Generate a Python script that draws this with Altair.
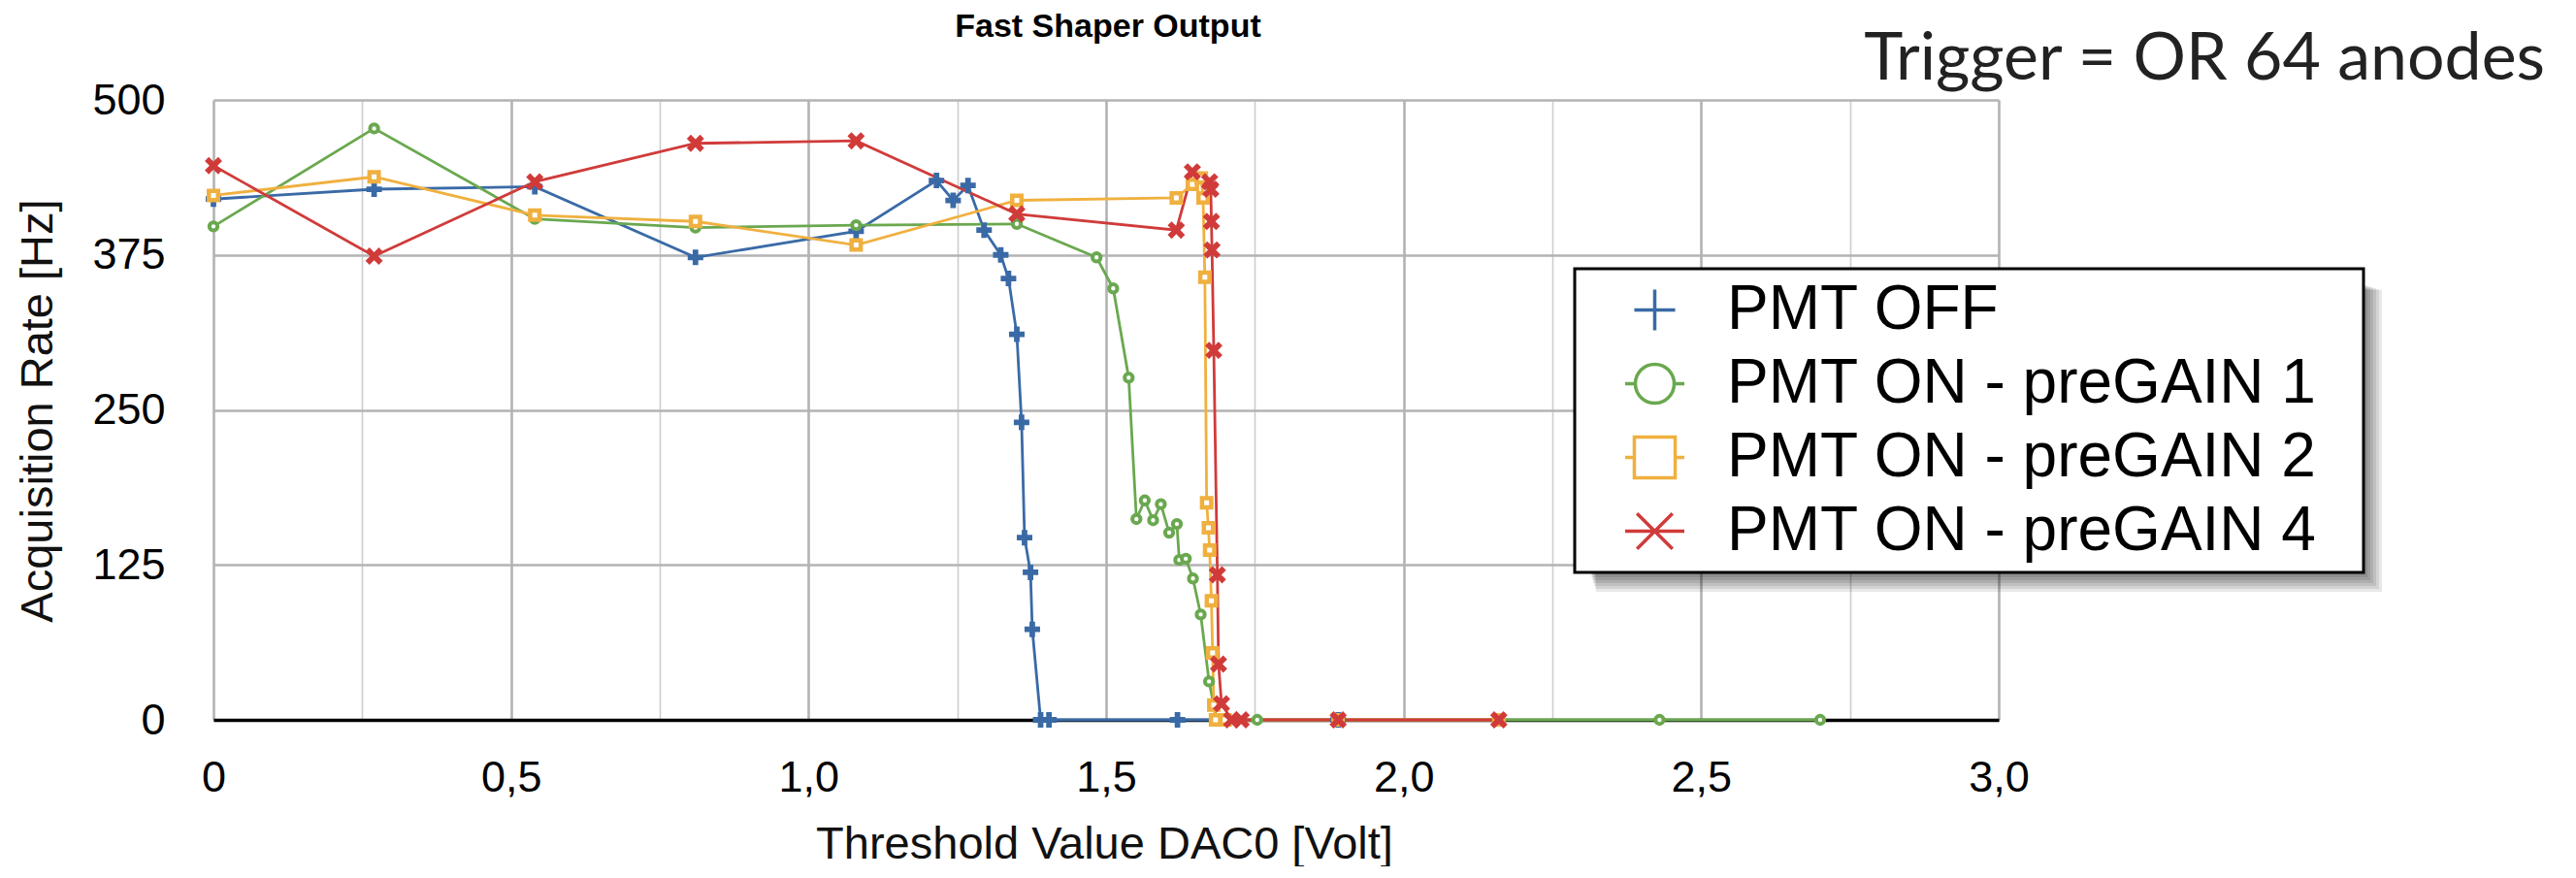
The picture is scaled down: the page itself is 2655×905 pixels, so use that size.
import altair as alt
import pandas as pd

# ---------------- data ----------------
SERIES = ["PMT OFF", "PMT ON - preGAIN 1", "PMT ON - preGAIN 2", "PMT ON - preGAIN 4"]
COLORS = ["#3a6aa6", "#6aa84f", "#f0b03f", "#d03b3a"]

off_x = [0, 0.27, 0.54, 0.81, 1.08, 1.215, 1.243, 1.268, 1.295, 1.323, 1.336, 1.35,
         1.358, 1.363, 1.373, 1.376, 1.39, 1.404, 1.62, 1.89]
off_y = [420, 428, 430, 373, 394, 435, 419, 431, 395, 375, 356, 311,
         240, 147, 119, 73, 0, 0, 0, 0]

g1_x = [0, 0.27, 0.54, 0.81, 1.08, 1.35, 1.484, 1.512, 1.538, 1.551, 1.565, 1.579,
        1.592, 1.606, 1.619, 1.623, 1.634, 1.646, 1.659, 1.673, 1.686, 1.754, 1.89,
        2.16, 2.43, 2.70]
g1_y = [398, 477, 404, 397, 399, 400, 373, 348, 276, 162, 177, 161,
        174, 151, 158, 129, 130, 114, 85, 31, 0, 0, 0,
        0, 0, 0]

g2_x = [0, 0.27, 0.54, 0.81, 1.08, 1.35, 1.618, 1.645, 1.660, 1.663, 1.666, 1.669,
        1.672, 1.674, 1.677, 1.679, 1.681, 1.684, 1.70, 1.89, 2.16]
g2_y = [423, 438, 407, 402, 383, 419, 421, 432, 437, 421, 357, 175,
        155, 137, 96, 54, 12, 0, 0, 0, 0]

g4_x = [0, 0.27, 0.54, 0.81, 1.08, 1.35, 1.618, 1.645, 1.674, 1.676, 1.677, 1.678,
        1.681, 1.687, 1.689, 1.694, 1.711, 1.727, 1.89, 2.16]
g4_y = [447, 374, 434, 465, 467, 408, 395, 442, 434, 428, 402, 379,
        298, 117, 45, 13, 0, 0, 0, 0]

X_TICKS = [0, 0.25, 0.5, 0.75, 1.0, 1.25, 1.5, 1.75, 2.0, 2.25, 2.5, 2.75, 3.0]
Y_TICKS = [0, 125, 250, 375, 500]

TITLE = "Fast Shaper Output"
NOTE = "Trigger = OR 64 anodes"

rows = []
for s, xs, ys in zip(SERIES, [off_x, g1_x, g2_x, g4_x], [off_y, g1_y, g2_y, g4_y]):
    for i, (xv, yv) in enumerate(zip(xs, ys)):
        rows.append({"series": s, "x": xv, "y": yv, "idx": i})
df = pd.DataFrame(rows)

# ---------------- styling ----------------
FONT = "Liberation Sans"
W, H = 1840, 639

PLUS = "M-0.36,-1H0.36V-0.36H1V0.36H0.36V1H-0.36V0.36H-1V-0.36H-0.36Z"
XMARK = ("M0.495,-0.919L0.919,-0.495L0.424,0L0.919,0.495L0.495,0.919L0,0.424"
         "L-0.495,0.919L-0.919,0.495L-0.424,0L-0.919,-0.495L-0.495,-0.919L0,-0.424Z")
LEG_SHAPES = [
    "M-0.69,0H0.69M0,-0.69V0.69",
    "M-1,0H-0.656M0.656,0H1M0.656,0A0.656,0.656,0,1,1,-0.656,0A0.656,0.656,0,1,1,0.656,0",
    "M-1,0H-0.69M0.69,0H1M-0.69,-0.69H0.69V0.69H-0.69Z",
    "M-1,0H1M-0.6,-0.6L0.6,0.6M-0.6,0.6L0.6,-0.6",
]

x_axis = alt.Axis(
    values=X_TICKS,
    labelExpr="datum.value % 0.5 != 0 ? '' : (datum.value == 0 ? '0' : replace(format(datum.value, '.1f'), '.', ','))",
    labelFont=FONT, labelFontSize=45, labelColor="black", labelPadding=37,
    labelFlush=False, labelOverlap=False,
    ticks=False, tickSize=0,
    domainColor="black", domainWidth=3.5,
    gridColor={"condition": {"test": "datum.value % 0.5 == 0", "value": "#b3b3b3"}, "value": "#cdcdcd"},
    gridWidth={"condition": {"test": "datum.value % 0.5 == 0", "value": 2.6}, "value": 1.6},
    title="Threshold Value DAC0 [Volt]",
    titleFont=FONT, titleFontSize=47, titleFontWeight="normal", titleColor="#111111",
    titleX=918, titleY=142, titleBaseline="alphabetic", titleAlign="center",
)
y_axis = alt.Axis(
    values=Y_TICKS,
    labelFont=FONT, labelFontSize=45, labelColor="black", labelPadding=50,
    ticks=False, tickSize=0, domain=False,
    gridColor="#b3b3b3", gridWidth=2.6,
    title="Acquisition Rate [Hz]",
    titleFont=FONT, titleFontSize=47, titleFontWeight="normal", titleColor="#111111",
    titleAngle=270, titleX=-167, titleY=320, titleBaseline="alphabetic", titleAlign="center",
)

X = alt.X("x:Q", scale=alt.Scale(domain=[0, 3], nice=False, zero=False), axis=x_axis)
Y = alt.Y("y:Q", scale=alt.Scale(domain=[0, 500], nice=False), axis=y_axis)

base = alt.Chart(df)

lines = base.mark_line(strokeWidth=2.8).encode(
    x=X, y=Y,
    color=alt.Color("series:N", scale=alt.Scale(domain=SERIES, range=COLORS), legend=None),
    detail="series:N",
    order="idx:Q",
)

m_off = base.transform_filter(alt.datum.series == SERIES[0]).mark_point(
    shape=PLUS, filled=True, size=256, color=COLORS[0], opacity=1).encode(x=X, y=Y)
m_g1 = base.transform_filter(alt.datum.series == SERIES[1]).mark_point(
    shape="circle", filled=False, fill="white", fillOpacity=1, stroke=COLORS[1],
    strokeWidth=4, size=70, opacity=1).encode(x=X, y=Y)
m_g2 = base.transform_filter(alt.datum.series == SERIES[2]).mark_point(
    shape="square", filled=False, fill="white", fillOpacity=1, stroke=COLORS[2],
    strokeWidth=4.5, size=90, opacity=1).encode(x=X, y=Y)
m_g4 = base.transform_filter(alt.datum.series == SERIES[3]).mark_point(
    shape=XMARK, filled=True, size=380, color=COLORS[3], opacity=1).encode(x=X, y=Y)

leg = alt.Legend(
    title=None, orient="none", legendX=1403, legendY=174,
    padding=10, symbolOffset=40, labelOffset=42, rowPadding=11,
    symbolSize=3721, symbolStrokeWidth=3.5, symbolType="circle",
    labelFont=FONT, labelFontSize=64, labelColor="black", labelLimit=2000,
)
legend_layer = base.transform_filter("false").mark_point(filled=False, strokeWidth=3.5, opacity=1).encode(
    x=X, y=Y,
    color=alt.Color("series:N", scale=alt.Scale(domain=SERIES, range=COLORS), legend=leg),
    shape=alt.Shape("series:N", scale=alt.Scale(domain=SERIES, range=LEG_SHAPES), legend=leg),
)

# legend frame (box + soft drop shadow), drawn under the legend entries
one = alt.Data(values=[{"k": 0}])
BOX_L, BOX_R, BOX_T, BOX_B = 1403, 2216, 174, 487
frame = []
for k in range(7):
    frame.append(
        alt.Chart(one).mark_rect(color="black", opacity=0.09).encode(
            x=alt.value(BOX_L + 16 + k), x2=alt.value(BOX_R + 1 + 3 * k),
            y=alt.value(BOX_T + 16 + k), y2=alt.value(BOX_B + 2 + 3 * k),
        )
    )
frame.append(
    alt.Chart(one).mark_rect(fill="white", stroke="black", strokeWidth=3, opacity=1).encode(
        x=alt.value(BOX_L), x2=alt.value(BOX_R), y=alt.value(BOX_T), y2=alt.value(BOX_B),
    )
)

title_text = alt.Chart(one).mark_text(
    text=TITLE, font=FONT, fontSize=34, fontWeight="bold", align="center",
    baseline="alphabetic", color="black",
).encode(x=alt.value(922), y=alt.value(-65))

note = alt.Chart(one).mark_text(
    text=NOTE, font="Lato", fontSize=68, align="right",
    baseline="alphabetic", color="#222222",
).encode(x=alt.value(2403), y=alt.value(-21))

chart = alt.layer(
    lines, m_off, m_g1, m_g2, m_g4, *frame, legend_layer, title_text, note
).resolve_scale(
    color="independent", shape="independent"
).properties(
    width=W, height=H,
    padding={"left": 212, "top": 95, "right": 570, "bottom": 151},
    autosize=alt.AutoSizeParams(type="none"),
).configure_view(strokeWidth=0)

chart.save("out.html", embed_options={"renderer": "svg", "actions": False})
